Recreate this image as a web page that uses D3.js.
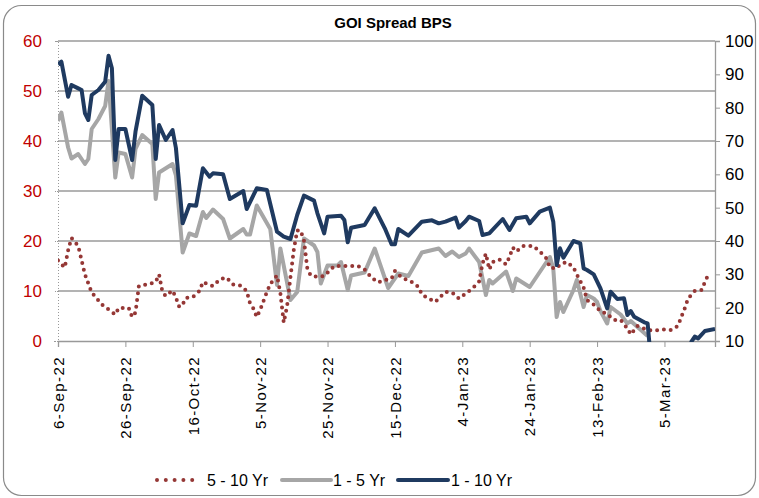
<!DOCTYPE html>
<html>
<head>
<meta charset="UTF-8">
<script src="https://cdn.jsdelivr.net/npm/d3@7"></script>
<style>
  body { margin: 0; background: #fff; }
  text { font-family: "Liberation Sans", Arial, sans-serif; }
</style>
</head>
<body>
<svg id="chart" width="759" height="498"></svg>
<script>
// 5 - 10 Yr spread (left axis)
var spread510 = [
  ["2022-09-06",16.1],["2022-09-08",14.7],["2022-09-09",18.1],["2022-09-10",20.6],["2022-09-12",19.0],
  ["2022-09-14",13.3],["2022-09-16",9.7],["2022-09-19",7.3],["2022-09-23",5.3],["2022-09-24",6.6],
  ["2022-09-27",6.6],["2022-09-28",4.8],["2022-09-29",5.7],["2022-09-30",11.0],["2022-10-03",11.4],
  ["2022-10-05",11.8],["2022-10-06",13.3],["2022-10-07",9.8],["2022-10-08",9.0],["2022-10-10",10.1],
  ["2022-10-11",8.7],["2022-10-12",6.8],["2022-10-13",7.3],["2022-10-14",8.6],["2022-10-16",8.8],
  ["2022-10-18",10.0],["2022-10-19",11.8],["2022-10-21",11.2],["2022-10-22",11.0],["2022-10-24",12.3],
  ["2022-10-26",12.7],["2022-10-28",11.3],["2022-10-30",11.1],["2022-11-01",10.0],["2022-11-02",7.5],
  ["2022-11-03",6.5],["2022-11-04",4.8],["2022-11-05",6.2],["2022-11-06",8.0],["2022-11-07",9.8],
  ["2022-11-08",11.4],["2022-11-10",13.1],["2022-11-11",9.6],["2022-11-12",3.7],["2022-11-13",7.0],
  ["2022-11-14",12.8],["2022-11-15",18.3],["2022-11-16",22.1],["2022-11-17",22.1],["2022-11-18",20.1],
  ["2022-11-19",14.5],["2022-11-20",13.1],["2022-11-22",12.8],["2022-11-24",13.0],["2022-11-27",15.0],
  ["2022-11-29",15.0],["2022-12-01",15.0],["2022-12-04",15.0],["2022-12-06",14.3],["2022-12-08",12.7],
  ["2022-12-10",11.7],["2022-12-12",12.2],["2022-12-14",12.5],["2022-12-15",14.0],["2022-12-17",12.7],
  ["2022-12-20",11.8],["2022-12-22",10.8],["2022-12-23",9.3],["2022-12-25",8.5],["2022-12-27",7.8],
  ["2022-12-28",8.5],["2022-12-30",9.8],["2023-01-01",9.7],["2023-01-03",8.5],["2023-01-05",9.5],
  ["2023-01-07",10.5],["2023-01-09",11.9],["2023-01-10",15.5],["2023-01-11",17.5],["2023-01-12",14.3],
  ["2023-01-13",15.8],["2023-01-15",16.3],["2023-01-17",15.3],["2023-01-18",16.8],["2023-01-19",18.7],
  ["2023-01-20",17.9],["2023-01-22",19.0],["2023-01-25",19.0],["2023-01-27",17.9],["2023-01-29",16.5],
  ["2023-01-30",14.7],["2023-02-01",14.5],["2023-02-02",15.3],["2023-02-04",15.8],["2023-02-06",14.7],
  ["2023-02-07",13.3],["2023-02-09",10.7],["2023-02-10",8.2],["2023-02-12",7.3],["2023-02-14",6.0],
  ["2023-02-16",5.4],["2023-02-18",4.2],["2023-02-20",4.2],["2023-02-22",2.5],["2023-02-23",1.3],
  ["2023-02-25",3.0],["2023-02-28",2.2],["2023-03-02",2.1],["2023-03-05",2.3],["2023-03-07",2.2],
  ["2023-03-09",3.0],["2023-03-10",4.8],["2023-03-11",6.5],["2023-03-12",8.5],["2023-03-14",10.0],
  ["2023-03-16",10.2],["2023-03-17",11.8],["2023-03-18",13.3]
];

// 1 - 5 Yr spread (left axis)
var spread15 = [
  ["2022-09-06",44.0],["2022-09-07",45.7],["2022-09-09",38.7],["2022-09-10",36.5],["2022-09-12",37.4],
  ["2022-09-14",35.4],["2022-09-15",36.4],["2022-09-16",42.4],["2022-09-18",44.4],["2022-09-20",47.0],
  ["2022-09-21",52.0],["2022-09-23",32.7],["2022-09-24",37.7],["2022-09-26",37.4],["2022-09-28",32.7],
  ["2022-09-29",38.4],["2022-10-01",41.2],["2022-10-04",39.4],["2022-10-05",28.4],["2022-10-06",33.7],
  ["2022-10-10",35.4],["2022-10-11",33.1],["2022-10-13",17.7],["2022-10-15",21.5],["2022-10-17",21.0],
  ["2022-10-19",25.8],["2022-10-20",24.6],["2022-10-22",26.3],["2022-10-25",24.4],["2022-10-27",20.5],
  ["2022-10-31",22.4],["2022-11-01",21.3],["2022-11-02",21.3],["2022-11-04",27.1],["2022-11-08",22.4],
  ["2022-11-10",11.2],["2022-11-11",18.5],["2022-11-14",8.2],["2022-11-16",9.8],["2022-11-18",20.5],
  ["2022-11-21",19.1],["2022-11-22",17.8],["2022-11-23",11.5],["2022-11-25",15.1],["2022-11-28",15.1],
  ["2022-11-29",15.8],["2022-12-01",10.2],["2022-12-02",13.1],["2022-12-06",13.7],["2022-12-09",18.5],
  ["2022-12-13",10.6],["2022-12-16",13.5],["2022-12-19",13.0],["2022-12-23",17.7],["2022-12-28",18.5],
  ["2022-12-30",17.0],["2023-01-01",17.9],["2023-01-03",16.8],["2023-01-05",17.5],["2023-01-06",18.5],
  ["2023-01-09",15.8],["2023-01-11",9.2],["2023-01-12",12.2],["2023-01-13",11.5],["2023-01-17",13.9],
  ["2023-01-19",10.0],["2023-01-20",12.5],["2023-01-24",10.8],["2023-01-30",16.8],["2023-01-31",14.5],
  ["2023-02-01",4.8],["2023-02-02",7.8],["2023-02-03",5.8],["2023-02-06",10.2],["2023-02-07",12.2],
  ["2023-02-09",6.8],["2023-02-10",9.2],["2023-02-12",8.5],["2023-02-13",7.8],["2023-02-14",6.0],
  ["2023-02-16",3.5],["2023-02-17",6.8],["2023-02-20",5.3],["2023-02-22",3.5],["2023-02-23",4.0],
  ["2023-02-28",1.0]
];

// 1 - 10 Yr spread (right axis)
var spread110 = [
  ["2022-09-06",93.0],["2022-09-07",93.8],["2022-09-09",83.3],["2022-09-10",86.8],["2022-09-12",85.8],
  ["2022-09-13",85.3],["2022-09-14",78.3],["2022-09-15",76.3],["2022-09-16",83.8],["2022-09-18",85.3],
  ["2022-09-20",87.8],["2022-09-21",95.6],["2022-09-22",91.8],["2022-09-23",64.3],["2022-09-24",73.6],
  ["2022-09-26",73.6],["2022-09-28",64.3],["2022-09-29",72.8],["2022-10-01",83.6],["2022-10-04",80.8],
  ["2022-10-05",64.6],["2022-10-06",74.8],["2022-10-08",70.3],["2022-10-10",73.3],["2022-10-11",67.9],
  ["2022-10-13",45.3],["2022-10-15",50.8],["2022-10-17",50.6],["2022-10-19",61.8],["2022-10-21",59.3],
  ["2022-10-22",60.3],["2022-10-25",60.0],["2022-10-27",52.6],["2022-10-31",55.0],["2022-11-01",49.6],
  ["2022-11-04",55.8],["2022-11-07",55.3],["2022-11-10",42.8],["2022-11-12",41.3],["2022-11-14",40.6],
  ["2022-11-16",47.8],["2022-11-18",53.6],["2022-11-21",52.1],["2022-11-22",48.3],["2022-11-24",42.3],
  ["2022-11-25",47.3],["2022-11-29",47.6],["2022-11-30",46.3],["2022-12-01",39.6],["2022-12-02",44.0],
  ["2022-12-06",44.8],["2022-12-09",49.8],["2022-12-12",43.8],["2022-12-14",39.0],["2022-12-15",39.0],
  ["2022-12-16",43.6],["2022-12-19",41.6],["2022-12-23",45.8],["2022-12-26",46.2],["2022-12-28",45.3],
  ["2022-12-30",45.8],["2023-01-02",47.0],["2023-01-03",44.0],["2023-01-05",46.0],["2023-01-06",47.3],
  ["2023-01-09",46.0],["2023-01-10",41.8],["2023-01-12",42.3],["2023-01-16",46.6],["2023-01-18",43.3],
  ["2023-01-20",46.8],["2023-01-23",47.3],["2023-01-24",45.3],["2023-01-27",48.8],["2023-01-30",50.0],
  ["2023-01-31",45.8],["2023-02-01",32.8],["2023-02-02",37.8],["2023-02-03",35.0],["2023-02-06",40.0],
  ["2023-02-08",39.3],["2023-02-09",31.8],["2023-02-10",31.3],["2023-02-12",30.0],["2023-02-14",25.8],
  ["2023-02-16",19.8],["2023-02-17",24.8],["2023-02-19",22.6],["2023-02-21",22.8],["2023-02-22",17.8],
  ["2023-02-23",19.0],["2023-02-24",17.3],["2023-02-27",15.6],["2023-02-28",15.3],["2023-03-01",4.0],
  ["2023-03-12",4.0],["2023-03-13",9.8],["2023-03-14",11.3],["2023-03-15",10.8],["2023-03-17",13.0],
  ["2023-03-20",13.6]
];

var xTickLabels = ["6-Sep-22","26-Sep-22","16-Oct-22","5-Nov-22","25-Nov-22","15-Dec-22","4-Jan-23","24-Jan-23","13-Feb-23","5-Mar-23"];
var leftTicks = [0, 10, 20, 30, 40, 50, 60];
var rightTicks = [10, 20, 30, 40, 50, 60, 70, 80, 90, 100];
var seriesNames = ["5 - 10 Yr", "1 - 5 Yr", "1 - 10 Yr"];

var svg = d3.select("#chart");
var parse = d3.timeParse("%Y-%m-%d");
var parseTick = d3.timeParse("%d-%b-%y");

var plotL = 58, plotR = 715, plotT = 41, plotB = 341;

var x = d3.scaleTime()
  .domain([parse("2022-09-06"), parse("2023-03-20")])
  .range([plotL, plotR]);
var yL = d3.scaleLinear().domain([0, 60]).range([plotB, plotT]);
var yR = d3.scaleLinear().domain([10, 100]).range([plotB, plotT]);

// frame
svg.append("rect")
  .attr("x", 3.5).attr("y", 5.5).attr("width", 752).attr("height", 490)
  .attr("rx", 18).attr("fill", "#fff").attr("stroke", "#8a8a8a").attr("stroke-width", 1.2);

svg.append("text")
  .attr("x", 393).attr("y", 28)
  .attr("text-anchor", "middle")
  .style("font-size", "15px").style("font-weight", "bold")
  .text("GOI Spread BPS");

// gridlines
svg.append("g").selectAll("line")
  .data(leftTicks.slice(1))
  .enter().append("line")
  .attr("x1", plotL).attr("x2", plotR)
  .attr("y1", function(d) { return yL(d); })
  .attr("y2", function(d) { return yL(d); })
  .attr("stroke", "#9a9a9a").attr("stroke-width", 1.3);

// left axis
var gL = svg.append("g")
  .attr("transform", "translate(" + plotL + ",0)")
  .call(d3.axisLeft(yL).tickValues(leftTicks).tickSize(4).tickPadding(12));
gL.select(".domain").attr("stroke", "#999").attr("stroke-dasharray", "1,2");
gL.selectAll(".tick line").attr("stroke", "#999").attr("stroke-dasharray", "1,1");
gL.selectAll(".tick text").attr("fill", "#c00000").style("font-size", "17px")
  .style("font-family", "Liberation Sans, Arial, sans-serif");

// right axis
var gR = svg.append("g")
  .attr("transform", "translate(" + plotR + ",0)")
  .call(d3.axisRight(yR).tickValues(rightTicks).tickSize(5).tickPadding(5));
gR.select(".domain").attr("stroke", "#999").attr("stroke-width", 1.3);
gR.selectAll(".tick line").attr("stroke", "#999");
gR.selectAll(".tick text").attr("fill", "#000").style("font-size", "17px")
  .style("font-family", "Liberation Sans, Arial, sans-serif");

// bottom axis
var gX = svg.append("g")
  .attr("transform", "translate(0," + plotB + ")")
  .call(d3.axisBottom(x)
    .tickValues(xTickLabels.map(parseTick))
    .tickSize(6)
    .tickFormat(function(d, i) { return xTickLabels[i]; }));
gX.select(".domain").attr("stroke", "#999").attr("stroke-width", 1.3);
gX.selectAll(".tick line").attr("stroke", "#999");
gX.selectAll(".tick text")
  .attr("fill", "#000")
  .style("font-size", "15px")
  .style("letter-spacing", "1.4px")
  .style("font-family", "Liberation Sans, Arial, sans-serif")
  .attr("text-anchor", "end")
  .attr("transform", "rotate(-90)")
  .attr("x", -15).attr("y", 0).attr("dy", "0.35em");

// plot clip
svg.append("clipPath").attr("id", "plotClip")
  .append("rect").attr("x", plotL).attr("y", plotT - 4).attr("width", plotR - plotL).attr("height", plotB - plotT + 5);

var plot = svg.append("g").attr("clip-path", "url(#plotClip)");

var lineL = d3.line()
  .x(function(d) { return x(parse(d[0])); })
  .y(function(d) { return yL(d[1]); });
var lineR = d3.line()
  .x(function(d) { return x(parse(d[0])); })
  .y(function(d) { return yR(d[1]); });

plot.append("path").datum(spread15)
  .attr("d", lineL).attr("fill", "none")
  .attr("stroke", "#a6a6a6").attr("stroke-width", 4).attr("stroke-linejoin", "round");

plot.append("path").datum(spread510)
  .attr("d", lineL).attr("fill", "none")
  .attr("stroke", "#953735").attr("stroke-width", 4)
  .attr("stroke-linecap", "round").attr("stroke-dasharray", "0,6.8");

plot.append("path").datum(spread110)
  .attr("d", lineR).attr("fill", "none")
  .attr("stroke", "#1f3a60").attr("stroke-width", 4).attr("stroke-linejoin", "round");

// legend
var legend = svg.append("g");
var legY = 480;
var items = [
  {x1: 157, x2: 201, tx: 207, color: "#953735", dash: "0,8.8", cap: "round"},
  {x1: 282, x2: 331, tx: 333, color: "#a6a6a6", dash: null, cap: "round"},
  {x1: 398, x2: 448, tx: 451, color: "#1f3a60", dash: null, cap: "round"}
];
items.forEach(function(it, i) {
  legend.append("line")
    .attr("x1", it.x1).attr("x2", it.x2).attr("y1", legY).attr("y2", legY)
    .attr("stroke", it.color).attr("stroke-width", 4)
    .attr("stroke-linecap", it.cap).attr("stroke-dasharray", it.dash);
  legend.append("text")
    .attr("x", it.tx).attr("y", legY).attr("dy", "0.35em")
    .style("font-size", "16px")
    .text(seriesNames[i]);
});
</script>
</body>
</html>
